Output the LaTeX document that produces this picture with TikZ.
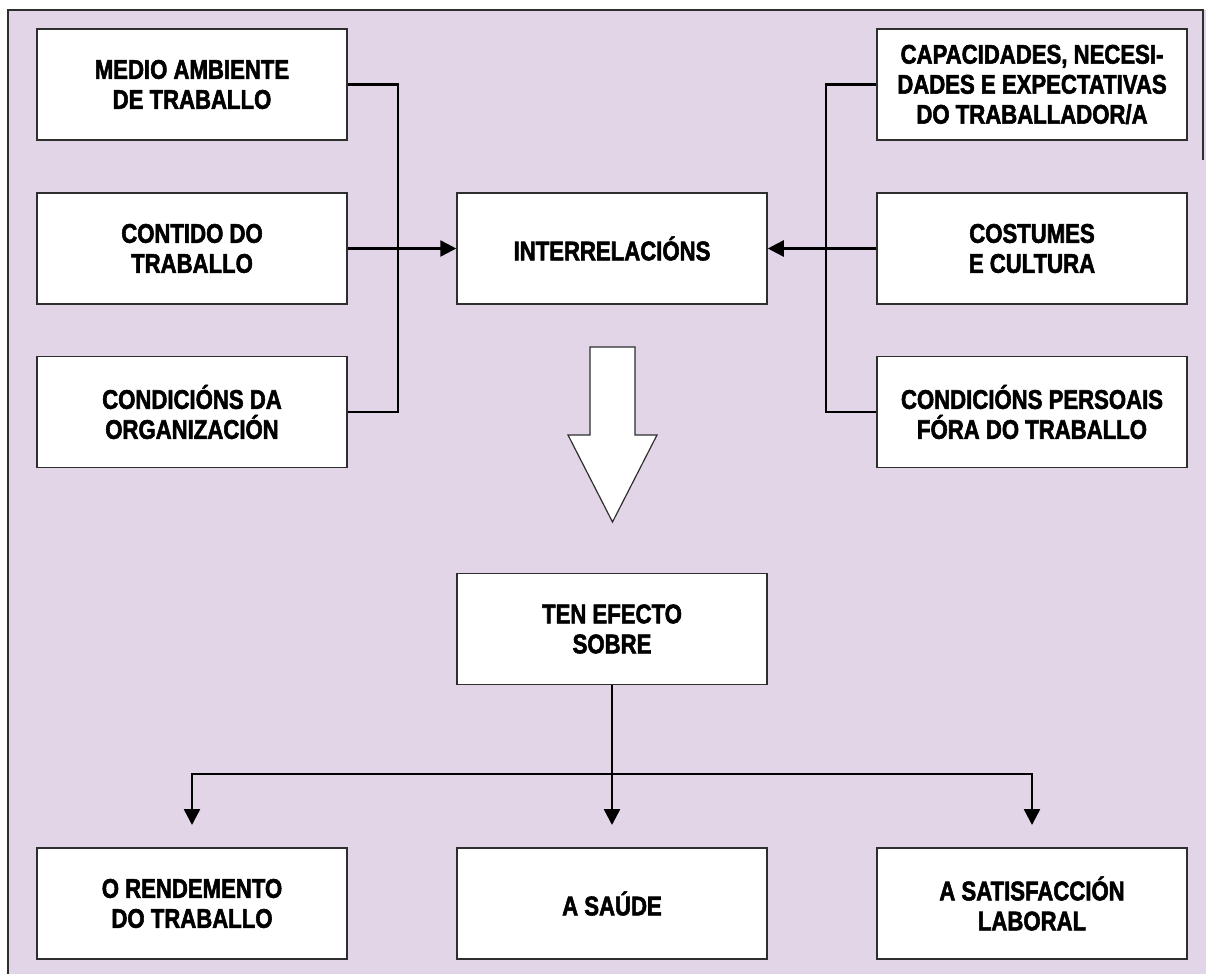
\documentclass[tikz,border=0pt]{standalone}
\usepackage{fontspec}
\setmainfont{Liberation Sans}[FakeStretch=0.82,BoldFeatures={FakeBold=2}]
\usetikzlibrary{arrows.meta}
\definecolor{lilac}{HTML}{E2D5E7}
\definecolor{edge}{HTML}{2E2E2E}
\begin{document}
\begin{tikzpicture}[x=1pt,y=-1pt,
  box/.style={draw=edge,line width=1.5pt,fill=white,minimum width=310pt,minimum height=111pt,
    inner sep=0pt,align=center,font=\fontsize{27}{30}\selectfont\bfseries},
  conn/.style={line width=2.5pt,black},
  arr/.style={conn,-{Triangle[length=16pt,width=16pt]}},
  arrs/.style={conn,{Triangle[length=16pt,width=16pt]}-{Triangle[length=16pt,width=16pt]}}]
\useasboundingbox (0,0) rectangle (1206,974);
\fill[lilac] (8,10) rectangle (1206,974);
\draw[line width=1.5pt,edge] (8,974) -- (8,10) -- (1203,10) -- (1203,160);
% left column
\node[box] (mad) at (192,84.5) {MEDIO AMBIENTE\\DE TRABALLO};
\node[box] (cdt) at (192,248.5) {CONTIDO DO\\TRABALLO};
\node[box] (cdo) at (192,412) {CONDICIÓNS DA\\ORGANIZACIÓN};
% center
\node[box] (int) at (612,248.5) {INTERRELACIÓNS};
\node[box] (ten) at (612,629) {TEN EFECTO\\SOBRE};
% right column
\node[box] (cap) at (1032,84.5) {CAPACIDADES, NECESI-\\DADES E EXPECTATIVAS\\DO TRABALLADOR/A};
\node[box] (cos) at (1032,248.5) {COSTUMES\\E CULTURA};
\node[box] (cpf) at (1032,412) {CONDICIÓNS PERSOAIS\\FÓRA DO TRABALLO};
% bottom
\node[box] (ren) at (192,903.5) {O RENDEMENTO\\DO TRABALLO};
\node[box] (sau) at (612,903.5) {A SAÚDE};
\node[box] (sat) at (1032,903.5) {A SATISFACCIÓN\\LABORAL};
% left connectors
\draw[conn] (mad.east) -- (398,84.5) -- (398,412) -- (cdo.east);
\draw[arr] (cdt.east) -- (int.west);
% right connectors
\draw[conn] (cap.west) -- (826,84.5) -- (826,412) -- (cpf.west);
\draw[arr] (cos.west) -- (int.east);
% big arrow
\draw[draw=edge,fill=white,line width=1.2pt,line join=miter]
  (590,347) -- (635,347) -- (635,435) -- (657,435) -- (612.5,522) -- (568,435) -- (590,435) -- cycle;
% bottom connectors
\coordinate (hl) at (192,774);
\coordinate (hr) at (1032,774);
\coordinate (ta) at (192,825);
\coordinate (tb) at (612,825);
\coordinate (tc) at (1032,825);
\draw[arr] (ten.south) -- (tb);
\draw[arrs] (ta) -- (hl) -- (hr) -- (tc);
\end{tikzpicture}
\end{document}
